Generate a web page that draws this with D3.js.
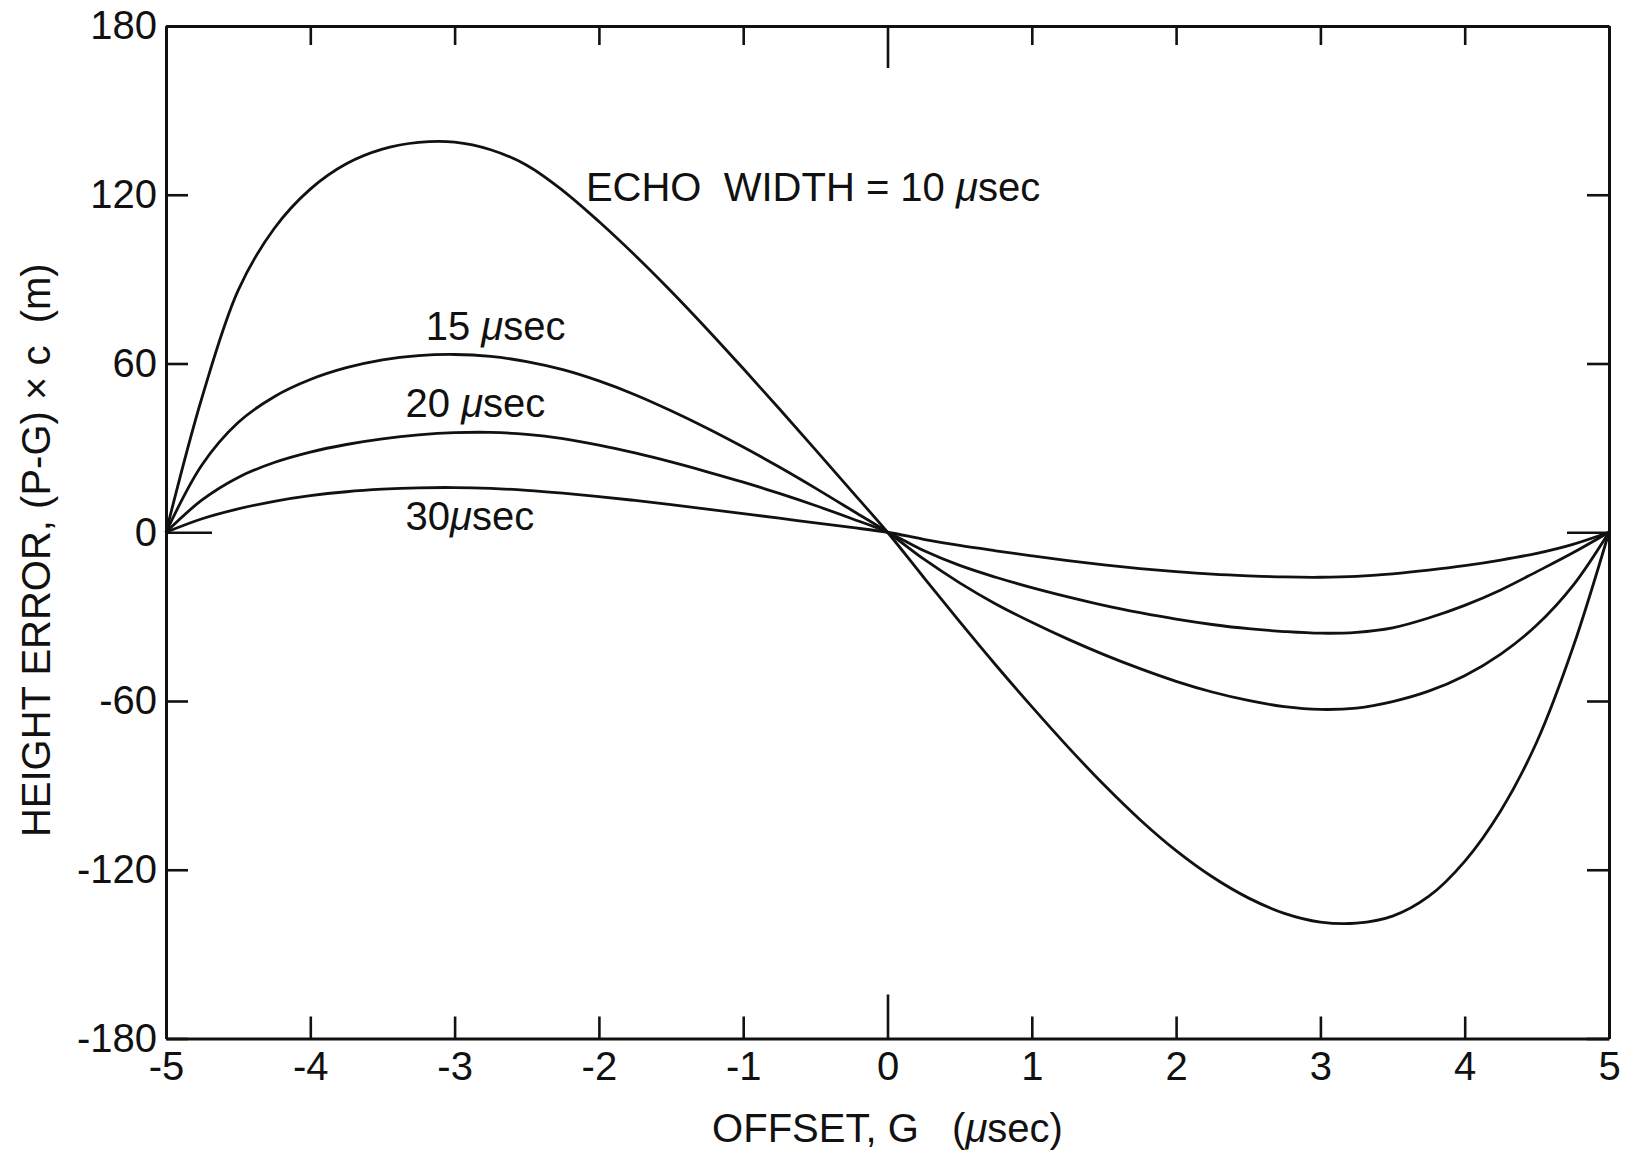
<!DOCTYPE html>
<html>
<head>
<meta charset="utf-8">
<script src="https://cdn.jsdelivr.net/npm/d3@7/dist/d3.min.js"></script>
<style>
  html, body { margin: 0; padding: 0; background: #fff; }
  svg { display: block; }
  text { font-family: "Liberation Sans", Arial, sans-serif; fill: #111; white-space: pre; }
</style>
</head>
<body>
<svg id="chart" width="1631" height="1156"></svg>
<script>
// Offset G (µsec) at which each curve is sampled
const offsets = [-5, -4.75, -4.5, -4.25, -4, -3.75, -3.5, -3.25, -3, -2.75, -2.5, -2.25, -2, -1.75, -1.5, -1.25, -1, -0.75, -0.5, -0.25,
                 0, 0.25, 0.5, 0.75, 1, 1.25, 1.5, 1.75, 2, 2.25, 2.5, 2.75, 3, 3.25, 3.5, 3.75, 4, 4.25, 4.5, 4.75, 5];

// Height error (P-G)×c in metres for each echo width
const width10 = [0, 48, 86, 108, 122, 131, 136.2, 138.6, 138.7, 136, 130.5, 121.5, 110.5, 98.5, 85.7, 72.2, 58.2, 43.9, 29.4, 14.7,
                 0, -16, -31.8, -47.2, -62, -76.3, -89.8, -102.2, -113.2, -122.5, -130, -135.5, -138.6, -139, -136.5, -129.5, -117, -99, -74.5, -41, 0];
const width15 = [0, 24, 39, 48.2, 54.3, 58.5, 61.3, 62.8, 63.2, 62.5, 60.7, 57.8, 53.8, 48.9, 43.2, 37, 30.3, 23.2, 15.7, 7.9,
                 0, -9.5, -18, -25.5, -32, -38, -43.5, -48.5, -53, -56.8, -59.8, -62, -63, -62.5, -60.2, -56.5, -51, -43.3, -33, -19, 0];
const width20 = [0, 11.5, 19.5, 24.8, 28.5, 31.2, 33.2, 34.6, 35.4, 35.5, 34.8, 33.3, 31, 28.2, 25, 21.5, 17.8, 13.8, 9.5, 4.9,
                 0, -6.5, -11.8, -16, -19.7, -23, -26, -28.6, -30.9, -32.8, -34.3, -35.3, -35.9, -35.6, -34, -30.5, -26, -20.5, -14, -7.3, 0];
const width30 = [0, 4.8, 8.3, 11, 13, 14.4, 15.3, 15.8, 15.9, 15.6, 14.9, 13.9, 12.7, 11.3, 9.8, 8.2, 6.6, 5, 3.3, 1.7,
                 0, -2.5, -4.7, -6.6, -8.4, -10.1, -11.6, -12.9, -14, -14.9, -15.5, -15.9, -16, -15.7, -14.8, -13.5, -11.9, -9.9, -7.5, -4.3, 0];

// Axis ticks and their printed labels
const xTicks = [-5, -4, -3, -2, -1, 0, 1, 2, 3, 4, 5];
const xTickLabels = ["-5", "-4", "-3", "-2", "-1", "0", "1", "2", "3", "4", "5"];
const yTicks = [-180, -120, -60, 0, 60, 120, 180];
const yTickLabels = ["-180", "-120", "-60", "0", "60", "120", "180"];

// Curve labels (anchored at offset / height-error coordinates)
const curveLabels = [
  { main: "ECHO  WIDTH = 10 ", x: -2.09, y: 117.8 },
  { main: "15 ", x: -3.2, y: 68.4 },
  { main: "20 ", x: -3.34, y: 41 },
  { main: "30", x: -3.34, y: 0.8 }
];

const svg = d3.select("#chart");
const plotLeft = 166, plotRight = 1609, plotTop = 26, plotBottom = 1038.5;

const x = d3.scaleLinear().domain([-5, 5]).range([plotLeft, plotRight]);
const y = d3.scaleLinear().domain([-180, 180]).range([plotBottom, plotTop]);

const fontSize = 40;

// Frame axes with inward ticks
const gBottom = svg.append("g").attr("transform", `translate(0,${plotBottom})`)
  .call(d3.axisBottom(x).tickValues(xTicks).tickSizeInner(-22).tickSizeOuter(0).tickPadding(13)
    .tickFormat((d, i) => xTickLabels[i]));
const gTop = svg.append("g").attr("transform", `translate(0,${plotTop})`)
  .call(d3.axisTop(x).tickValues(xTicks).tickSizeInner(-19).tickSizeOuter(0).tickFormat(""));
const gLeft = svg.append("g").attr("transform", `translate(${plotLeft},0)`)
  .call(d3.axisLeft(y).tickValues(yTicks).tickSizeInner(-22).tickSizeOuter(0).tickPadding(9)
    .tickFormat((d, i) => yTickLabels[i]));
const gRight = svg.append("g").attr("transform", `translate(${plotRight},0)`)
  .call(d3.axisRight(y).tickValues(yTicks).tickSizeInner(-22).tickSizeOuter(0).tickFormat(""));

[gBottom, gTop, gLeft, gRight].forEach(g => {
  g.select(".domain").attr("stroke", "#111").attr("stroke-width", 3);
  g.selectAll(".tick line").attr("stroke", "#111").attr("stroke-width", 2.6);
  g.selectAll(".tick text").attr("font-size", fontSize).attr("fill", "#111")
    .style("font-family", '"Liberation Sans", Arial, sans-serif');
});

// longer ticks mark the zero lines
gBottom.selectAll(".tick").filter(d => d === 0).select("line").attr("y2", -44);
gTop.selectAll(".tick").filter(d => d === 0).select("line").attr("y2", 42);
gLeft.selectAll(".tick").filter(d => d === 0).select("line").attr("x2", 46);
gRight.selectAll(".tick").filter(d => d === 0).select("line").attr("x2", -42);

// Curves
const line = d3.line()
  .x(d => x(d[0]))
  .y(d => y(d[1]))
  .curve(d3.curveCatmullRom.alpha(0.5));

[width10, width15, width20, width30].forEach(vals => {
  svg.append("path")
    .datum(offsets.map((g, i) => [g, vals[i]]))
    .attr("fill", "none")
    .attr("stroke", "#111")
    .attr("stroke-width", 2.8)
    .attr("stroke-linejoin", "round")
    .attr("d", line);
});

// Curve labels, with an italic mu
curveLabels.forEach(c => {
  const t = svg.append("text")
    .attr("x", x(c.x))
    .attr("y", y(c.y))
    .attr("font-size", fontSize);
  t.append("tspan").text(c.main);
  t.append("tspan").attr("font-style", "italic").text("μ");
  t.append("tspan").text("sec");
});

// Axis titles
const xt = svg.append("text")
  .attr("x", x(0))
  .attr("y", 1142)
  .attr("text-anchor", "middle")
  .attr("font-size", fontSize);
xt.append("tspan").text("OFFSET, G   (");
xt.append("tspan").attr("font-style", "italic").text("μ");
xt.append("tspan").text("sec)");

svg.append("text")
  .attr("transform", `translate(50,${y(0) + 18}) rotate(-90)`)
  .attr("text-anchor", "middle")
  .attr("font-size", fontSize)
  .text("HEIGHT ERROR, (P-G) × c  (m)");
</script>
</body>
</html>
